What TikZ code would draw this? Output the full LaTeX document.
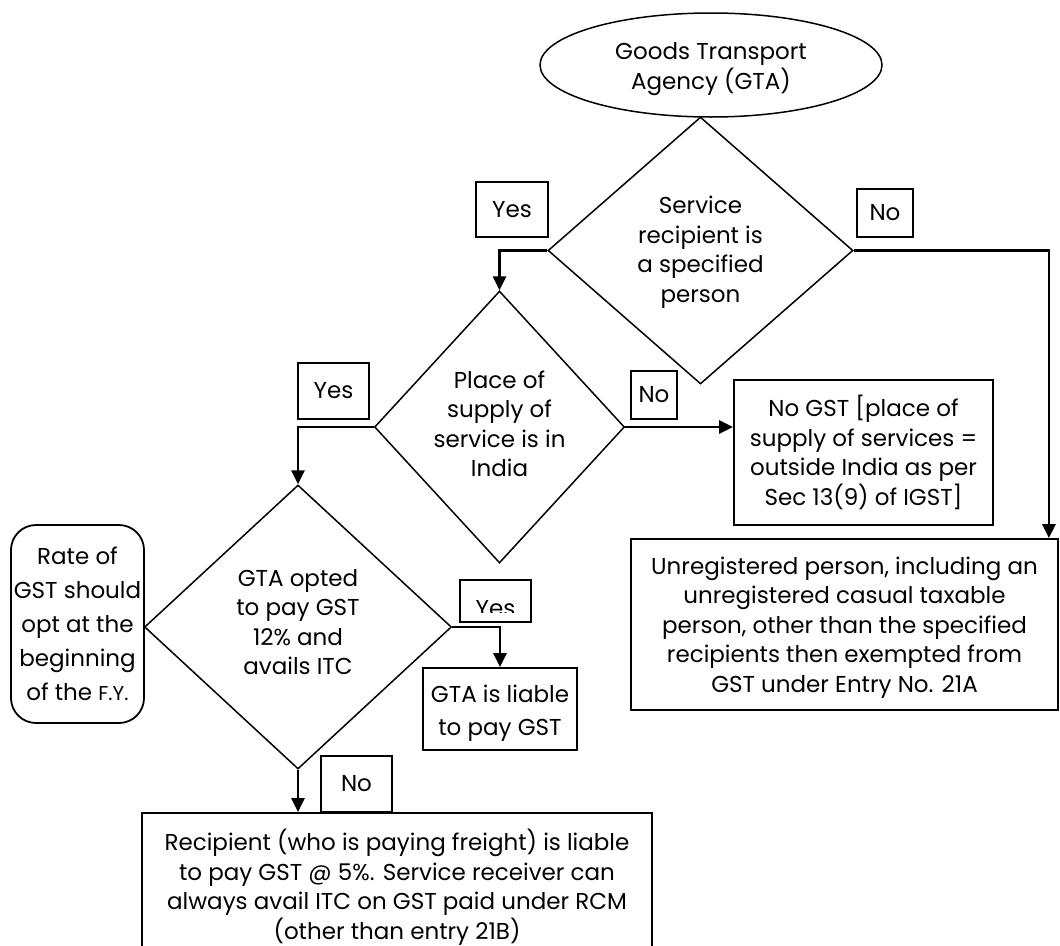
\documentclass[tikz,border=0pt]{standalone}
\usepackage{fontspec}
\setmainfont{Poppins}
\usetikzlibrary{shapes.geometric,arrows.meta}
\tikzset{
  txt/.style={align=center, inner sep=0pt, font=\fontsize{23}{29.5}\selectfont},
  box/.style={draw, line width=1.8pt, rectangle, inner sep=0pt, align=center, font=\fontsize{23}{29.5}\selectfont},
  lbl/.style={draw, line width=1.8pt, rectangle, inner sep=0pt, align=center, font=\fontsize{23}{29.5}\selectfont},
  dia/.style={draw, diamond, line width=1.5pt, inner sep=0pt},
  conn/.style={line width=2.8pt, -{Triangle[length=14pt,width=13pt]}},
}
\begin{document}
\begin{tikzpicture}[x=1pt,y=-1pt]
\clip (0,0) rectangle (1060,945);
\fill[white] (0,0) rectangle (1060,945);
% start
\node[draw, ellipse, line width=1.5pt, inner sep=0pt, minimum width=342pt, minimum height=104pt] (gta0) at (711,65) {};
\node[txt] (gta0t) at (711,69) {Goods Transport\\Agency (GTA)};
% decisions
\node[dia, minimum width=305pt, minimum height=267pt] (d1) at (700.5,250.5) {};
\node[txt] (d1t) at (700.5,252) {Service\\recipient is\\a specified\\person};
\node[dia, minimum width=250pt, minimum height=272pt] (d2) at (499.5,427) {};
\node[txt] (d2t) at (499.5,424) {Place of\\supply of\\service is in\\India};
\node[dia, minimum width=307pt, minimum height=284pt] (d3) at (298,627) {};
\node[txt] (d3t) at (298,622) {GTA opted\\to pay GST\\12\% and\\avails ITC};
% labels
\node[lbl, minimum width=72pt, minimum height=55pt] (yes1) at (512,209.5) {Yes};
\node[lbl, minimum width=56pt, minimum height=48pt] (no1) at (885,213) {No};
\node[lbl, minimum width=71pt, minimum height=56pt] (yes2) at (333.5,391) {Yes};
\node[lbl, minimum width=46pt, minimum height=48pt] (no2) at (654,395) {No};
\node[lbl, minimum width=71pt, minimum height=42pt] (yes3) at (495.5,601) {};
\begin{scope}
\clip (460,580) rectangle (531,612);
\node[txt, anchor=base] (yes3t) at (495.5,616) {Yes};
\end{scope}
\node[lbl, minimum width=71pt, minimum height=56pt] (no3) at (356.5,784) {No};
% outcome boxes
\node[box, minimum width=259pt, minimum height=145pt] (nogst) at (863.5,452.5) {No GST [place of\\supply of services =\\outside India as per\\Sec 13(9) of IGST]};
\node[box, minimum width=427pt, minimum height=171pt] (unreg) at (844.5,624.5) {};
\node[txt] (unregt) at (844.5,627.5) {Unregistered person, including an\\unregistered casual taxable\\person, other than the specified\\recipients then exempted from\\GST under Entry No. 21A};
\node[box, rounded corners=25pt, minimum width=133pt, minimum height=198pt, font=\fontsize{23}{34}\selectfont] (rate) at (77.5,624) {Rate of\\GST should\\opt at the\\beginning\\of the {\fontsize{20}{34}\selectfont F.Y.}};
\node[box, minimum width=154pt, minimum height=82pt] (gta) at (500,709) {};
\node[txt, font=\fontsize{23}{33}\selectfont] (gtat) at (500,713) {GTA is liable\\to pay GST};
\node[box, minimum width=510pt, minimum height=142pt] (rcm) at (397,884) {};
\node[txt] (rcmt) at (397,887) {Recipient (who is paying freight) is liable\\to pay GST @ 5\%. Service receiver can\\always avail ITC on GST paid under RCM\\(other than entry 21B)};
% connectors
\draw[conn] (d1.west) -| (d2.north);
\draw[conn] (d1.east) -| ([xshift=-10pt]unreg.north east);
\draw[conn] (d2.west) -| (d3.north);
\draw[conn] (d2.east) -- (d2.east -| nogst.west);
\draw[conn] (d3.east) -| (gta.north);
\draw[conn] (d3.south) -- (d3.south |- rcm.north);
\end{tikzpicture}
\end{document}
